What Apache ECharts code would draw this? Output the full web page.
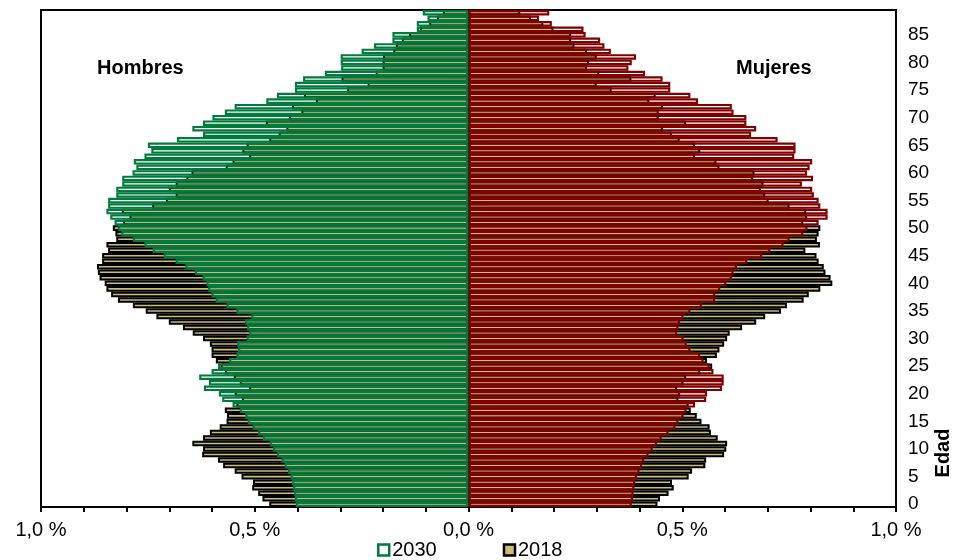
<!DOCTYPE html>
<html><head><meta charset="utf-8">
<script src="https://cdn.jsdelivr.net/npm/echarts@6/dist/echarts.min.js"></script>
<style>html,body{margin:0;padding:0;background:#fff}#c{width:953px;height:560px}</style>
</head><body><div id="c"></div>
<script>
// Ages 0..89 (category labels)
const ages = [];
for (let i = 0; i < 90; i++) ages.push(String(i));

// Percent of population, age 0 -> 89
const men2018 = [0.466,0.482,0.492,0.506,0.504,0.531,0.547,0.574,0.586,0.623,
0.621,0.646,0.621,0.605,0.582,0.566,0.565,0.570,0.543,0.530,
0.547,0.513,0.535,0.549,0.570,0.580,0.591,0.601,0.601,0.605,
0.621,0.645,0.668,0.701,0.730,0.755,0.785,0.820,0.836,0.847,
0.851,0.863,0.867,0.869,0.857,0.857,0.843,0.847,0.824,0.826,
0.832,0.808,0.793,0.811,0.740,0.708,0.685,0.701,0.685,0.660,
0.648,0.568,0.552,0.513,0.529,0.519,0.466,0.444,0.426,0.474,
0.420,0.391,0.413,0.357,0.385,0.284,0.236,0.297,0.217,0.201,
0.201,0.200,0.176,0.170,0.156,0.139,0.114,0.092,0.074,0.060];

const men2030 = [0.404,0.406,0.408,0.410,0.413,0.416,0.422,0.430,0.437,0.448,
0.457,0.465,0.481,0.492,0.505,0.516,0.522,0.535,0.552,0.576,
0.584,0.619,0.607,0.630,0.601,0.586,0.560,0.543,0.539,0.541,
0.519,0.513,0.518,0.523,0.508,0.543,0.566,0.591,0.601,0.609,
0.613,0.622,0.640,0.662,0.685,0.713,0.738,0.758,0.785,0.812,
0.820,0.828,0.838,0.847,0.843,0.843,0.824,0.824,0.810,0.810,
0.786,0.777,0.783,0.758,0.742,0.750,0.682,0.621,0.646,0.621,
0.599,0.570,0.547,0.473,0.448,0.406,0.406,0.387,0.336,0.298,
0.299,0.299,0.250,0.221,0.178,0.178,0.121,0.121,0.096,0.107];

const women2018 = [0.442,0.448,0.468,0.480,0.476,0.515,0.523,0.554,0.556,0.598,
0.603,0.605,0.583,0.567,0.564,0.545,0.534,0.520,0.515,0.491,
0.495,0.488,0.503,0.509,0.542,0.570,0.558,0.581,0.587,0.598,
0.605,0.611,0.640,0.673,0.694,0.731,0.745,0.784,0.796,0.823,
0.851,0.847,0.835,0.831,0.819,0.814,0.788,0.822,0.815,0.819,
0.823,0.783,0.792,0.790,0.751,0.702,0.694,0.684,0.690,0.666,
0.669,0.587,0.580,0.530,0.542,0.530,0.494,0.476,0.455,0.509,
0.445,0.445,0.455,0.423,0.438,0.335,0.300,0.381,0.306,0.277,
0.282,0.300,0.277,0.248,0.240,0.240,0.199,0.175,0.146,0.121];

const women2030 = [0.382,0.385,0.386,0.388,0.390,0.394,0.400,0.406,0.411,0.421,
0.431,0.441,0.452,0.468,0.484,0.491,0.503,0.510,0.530,0.556,
0.558,0.593,0.597,0.597,0.573,0.564,0.550,0.542,0.519,0.511,
0.503,0.488,0.491,0.495,0.503,0.519,0.546,0.577,0.577,0.589,
0.603,0.616,0.620,0.628,0.652,0.687,0.706,0.737,0.751,0.783,
0.793,0.819,0.840,0.840,0.823,0.819,0.808,0.804,0.780,0.806,
0.792,0.798,0.804,0.762,0.765,0.765,0.723,0.661,0.673,0.650,
0.650,0.620,0.616,0.537,0.519,0.472,0.472,0.454,0.413,0.374,
0.382,0.392,0.333,0.318,0.308,0.274,0.269,0.195,0.165,0.189];

const FONT = 'Liberation Sans, Arial, sans-serif';
const TAN = '#C9BD7A', GREEN = '#007A3D', RED = '#800000';

const chart = echarts.init(document.getElementById('c'), null, {renderer: 'canvas'});
chart.setOption({
  animation: false,
  textStyle: {fontFamily: FONT},
  grid: {left: 41, right: 57, top: 10, bottom: 53, show: true, borderColor: '#000', borderWidth: 2, backgroundColor: 'transparent'},
  legend: {
    left: 372, top: 535, itemWidth: 11, itemHeight: 11, itemGap: 66, icon: 'rect',
    textStyle: {fontFamily: FONT, fontSize: 20, color: '#000', padding: [0,0,0,-2]},
    data: [
      {name: '2030', itemStyle: {color: '#fff', borderColor: GREEN, borderWidth: 2.5}},
      {name: '2018', itemStyle: {color: TAN, borderColor: '#000', borderWidth: 2.5}}
    ]
  },
  xAxis: {
    type: 'value', min: -1, max: 1, interval: 0.1,
    axisLine: {show: true, lineStyle: {color: '#000', width: 2}},
    axisTick: {show: true, length: 5, lineStyle: {color: '#000', width: 2}},
    splitLine: {show: false},
    axisLabel: {
      fontFamily: FONT, fontSize: 20, color: '#000', margin: 13, showMinLabel: true, showMaxLabel: true,
      formatter: function (v) {
        const r = Math.round(v * 10);
        if (r % 5 !== 0) return '';
        return (Math.abs(r) / 10).toFixed(1).replace('.', ',') + ' %';
      }
    }
  },
  yAxis: {
    type: 'category', data: ages, position: 'right', boundaryGap: true,
    axisLine: {show: true, lineStyle: {color: '#000', width: 2}},
    axisTick: {show: false},
    splitLine: {show: false},
    axisLabel: {
      fontFamily: FONT, fontSize: 19, color: '#000', margin: 12, padding: [5, 0, 0, 0],
      interval: function (i) { return i % 5 === 0; }
    }
  },
  series: [
    {name: '2018', type: 'bar', data: men2018.map(v => -v), barGap: '-100%', barCategoryGap: 0,
     itemStyle: {color: TAN, borderColor: '#000', borderWidth: 2.0}},
    {name: '2018', type: 'bar', data: women2018, barGap: '-100%', barCategoryGap: 0,
     itemStyle: {color: TAN, borderColor: '#000', borderWidth: 2.0}},
    {name: '2030', type: 'bar', data: men2030.map(v => -v), barGap: '-100%', barCategoryGap: 0,
     itemStyle: {color: 'rgba(0,0,0,0)', borderColor: GREEN, borderWidth: 2.15}},
    {name: '2030', type: 'bar', data: women2030, barGap: '-100%', barCategoryGap: 0,
     itemStyle: {color: 'rgba(0,0,0,0)', borderColor: RED, borderWidth: 2.15}}
  ],
  graphic: [
    {type: 'text', left: 97, top: 58, style: {text: 'Hombres', font: 'bold 20px ' + FONT, fill: '#000'}},
    {type: 'text', left: 736, top: 58, style: {text: 'Mujeres', font: 'bold 20px ' + FONT, fill: '#000'}},
    {type: 'text', x: 943, y: 453, rotation: Math.PI / 2,
     style: {text: 'Edad', font: 'bold 20px ' + FONT, fill: '#000', textAlign: 'center', textVerticalAlign: 'middle'}}
  ]
});
</script></body></html>
